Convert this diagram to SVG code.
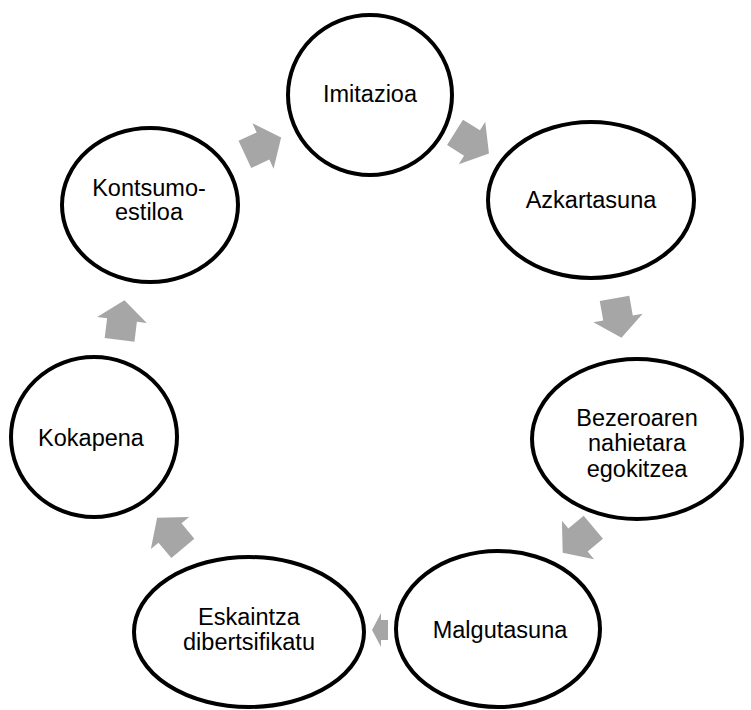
<svg xmlns="http://www.w3.org/2000/svg" width="751" height="710" viewBox="0 0 751 710">
  <style>
    .node { fill: #ffffff; stroke: #000000; stroke-width: 4; }
    .label { font-family: "Liberation Sans", Arial, sans-serif; font-size: 23.5px; fill: #000000; text-anchor: middle; }
    .arrow { fill: #a6a6a6; stroke: none; }
  </style>
  <defs>
    <!-- block arrow pointing along +x, centred on its wing line -->
    <path id="blk" d="M-20,-15 H0 V-25 L20,0 L0,25 V15 H-20 Z"/>
  </defs>
  <rect width="751" height="710" fill="#ffffff"/>

  <g id="connectors" class="arrow">
    <use href="#blk" transform="translate(263,146) rotate(-25)"/>
    <use href="#blk" transform="translate(472,143) rotate(32)"/>
    <use href="#blk" transform="translate(618,318) rotate(80)"/>
    <use href="#blk" transform="translate(578,540) rotate(140)"/>
    <polygon points="372,630 381,613 381,620 388,620 388,640 381,640 381,647"/>
    <use href="#blk" transform="translate(170,533) rotate(-130)"/>
    <use href="#blk" transform="translate(122,320) rotate(-83)"/>
  </g>

  <g id="imitazioa">
    <ellipse class="node" cx="370" cy="95" rx="82" ry="80"/>
    <text class="label" x="370" y="102">Imitazioa</text>
  </g>
  <g id="azkartasuna">
    <ellipse class="node" cx="591" cy="200" rx="103" ry="78"/>
    <text class="label" x="591" y="208">Azkartasuna</text>
  </g>
  <g id="bezeroaren">
    <ellipse class="node" cx="637" cy="439" rx="105" ry="80"/>
    <text class="label" x="637" y="426">Bezeroaren</text>
    <text class="label" x="637" y="451">nahietara</text>
    <text class="label" x="637" y="477">egokitzea</text>
  </g>
  <g id="malgutasuna">
    <ellipse class="node" cx="498" cy="629" rx="102" ry="78"/>
    <text class="label" x="500" y="638">Malgutasuna</text>
  </g>
  <g id="eskaintza">
    <ellipse class="node" cx="249" cy="632" rx="115" ry="75"/>
    <text class="label" x="249" y="625">Eskaintza</text>
    <text class="label" x="249" y="650">dibertsifikatu</text>
  </g>
  <g id="kokapena">
    <ellipse class="node" cx="94" cy="437" rx="83" ry="80"/>
    <text class="label" x="91" y="446">Kokapena</text>
  </g>
  <g id="kontsumoa">
    <ellipse class="node" cx="150" cy="205" rx="88" ry="77"/>
    <text class="label" x="149" y="196">Kontsumo-</text>
    <text class="label" x="149" y="220">estiloa</text>
  </g>
</svg>
